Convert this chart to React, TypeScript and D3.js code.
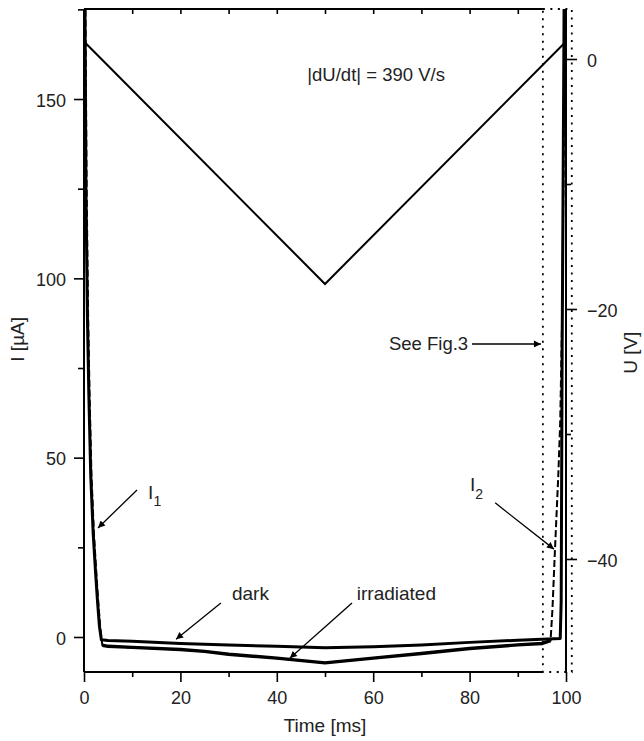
import React, { useEffect, useRef } from 'react';
import * as d3 from 'd3';

// triangular voltage sweep (right axis)
const sweepTime = [0, 50, 100];
const sweepVolt = [1.4, -18, 1.4];

// dark current trace
const darkTime = [0, 0.2, 0.4, 0.7, 1.0, 1.4, 1.9, 2.4, 2.8, 3.2, 3.6, 5, 10, 20, 30, 40, 50, 60, 70, 80, 90, 95, 98.8, 99.0, 99.2, 99.5, 99.7];
const darkCurrent = [200, 175, 125, 90, 68, 45, 29, 18, 10, 3, -0.8, -1.0, -1.2, -1.8, -2.2, -2.6, -3.0, -2.7, -2.2, -1.5, -0.9, -0.6, -0.4, 10, 80, 150, 200];

// irradiated current trace
const irrTime = [0, 0.3, 0.55, 0.85, 1.15, 1.55, 2.05, 2.55, 2.95, 3.35, 3.8, 5, 10, 20, 25, 30, 40, 50, 60, 70, 80, 90, 95, 96.8, 97.2, 97.7, 98.4, 98.8, 99.2, 99.5, 99.8];
const irrCurrent = [200, 175, 125, 90, 68, 45, 29, 18, 10, 3, -2.3, -2.6, -2.9, -3.5, -4.0, -4.8, -5.9, -7.2, -5.9, -4.6, -3.2, -2.2, -1.8, -1.0, 8, 24, 45, 60, 90, 130, 180];

const timeMajor = [0, 20, 40, 60, 80, 100];
const timeMinor = [10, 30, 50, 70, 90];
const currentMajor = [0, 50, 100, 150];
const currentMinor = [25, 75, 125, 175];
const voltMajor = [0, -20, -40];
const voltMinor = [-10, -30];

// zoom window shown in Fig.3 (ms)
const zoomWindow = [95.2, 101.2];

// annotation arrows: [t0, I0, t1, I1] in data units
const arrows = [
  [11.0, 41.0, 2.9, 30.4],
  [85.3, 37.4, 97.5, 24.5],
  [28.4, 9.5, 19.1, -0.6],
  [55.6, 9.5, 42.7, -5.9],
  [80.5, 81.7, 94.8, 81.7],
];

export default function App() {
  const ref = useRef<SVGSVGElement>(null);

  useEffect(() => {
    const width = 644;
    const height = 741;
    const margin = { top: 9, right: 78, bottom: 69, left: 84 };
    const font = "'Liberation Sans', Arial, sans-serif";

    const svg = d3.select(ref.current).attr('viewBox', [0, 0, width, height]);
    svg.selectAll('*').remove();

    const x = d3.scaleLinear([0, 100], [margin.left, width - margin.right]);
    const yI = d3.scaleLinear([-9.76, 175.1], [height - margin.bottom, margin.top]);
    const yU = d3.scaleLinear([-49.04, 4], [height - margin.bottom, margin.top]);

    const defs = svg.append('defs');
    defs.append('clipPath').attr('id', 'plot-clip')
      .append('rect')
      .attr('x', margin.left).attr('y', margin.top)
      .attr('width', width - margin.left - margin.right)
      .attr('height', height - margin.top - margin.bottom);
    defs.append('marker')
      .attr('id', 'arrowhead')
      .attr('viewBox', '0 0 10 10')
      .attr('refX', 10).attr('refY', 5)
      .attr('markerWidth', 9).attr('markerHeight', 7)
      .attr('markerUnits', 'userSpaceOnUse')
      .attr('orient', 'auto')
      .append('path').attr('d', 'M0,0L10,5L0,10z').attr('fill', '#000');

    // axes
    const styleAxis = (g, labels) => {
      g.select('.domain').remove();
      g.selectAll('line').attr('stroke', '#000').attr('stroke-width', 1.6);
      if (labels) g.selectAll('text').attr('font-family', font).attr('font-size', 18).attr('fill', '#222');
      else g.selectAll('text').remove();
    };
    const bottomY = height - margin.bottom;
    svg.append('g').attr('transform', `translate(0,${bottomY})`)
      .call(d3.axisBottom(x).tickValues(timeMajor).tickSize(10).tickPadding(9).tickFormat(d3.format('d')))
      .call((g) => styleAxis(g, true));
    svg.append('g').attr('transform', `translate(0,${bottomY})`)
      .call(d3.axisBottom(x).tickValues(timeMinor).tickSize(5))
      .call((g) => styleAxis(g, false));
    svg.append('g').attr('transform', `translate(0,${margin.top})`)
      .call(d3.axisTop(x).tickValues([...timeMinor, 20, 40, 60, 80]).tickSize(-5))
      .call((g) => styleAxis(g, false));
    svg.append('g').attr('transform', `translate(${margin.left},0)`)
      .call(d3.axisLeft(yI).tickValues(currentMajor).tickSize(10).tickPadding(8).tickFormat(d3.format('d')))
      .call((g) => styleAxis(g, true))
      .call((g) => g.selectAll('text').attr('dy', '0.4em'));
    svg.append('g').attr('transform', `translate(${margin.left},0)`)
      .call(d3.axisLeft(yI).tickValues(currentMinor).tickSize(6))
      .call((g) => styleAxis(g, false));
    const rightX = width - margin.right;
    svg.append('g').attr('transform', `translate(${rightX},0)`)
      .call(d3.axisRight(yU).tickValues(voltMajor).tickSize(11).tickPadding(10).tickFormat(d3.format('d')))
      .call((g) => styleAxis(g, true))
      .call((g) => g.selectAll('text').attr('dy', '0.4em'));
    svg.append('g').attr('transform', `translate(${rightX},0)`)
      .call(d3.axisRight(yU).tickValues(voltMinor).tickSize(5))
      .call((g) => styleAxis(g, false));

    // frame
    const frame = svg.append('g').attr('stroke', '#000').attr('stroke-width', 2);
    frame.append('line').attr('x1', x(0)).attr('x2', x(0)).attr('y1', margin.top).attr('y2', bottomY);
    frame.append('line').attr('x1', x(100)).attr('x2', x(100)).attr('y1', margin.top).attr('y2', bottomY);
    frame.append('line').attr('x1', x(0)).attr('x2', x(zoomWindow[0])).attr('y1', margin.top).attr('y2', margin.top);
    frame.append('line').attr('x1', x(0)).attr('x2', x(zoomWindow[0])).attr('y1', bottomY).attr('y2', bottomY);

    // dotted zoom window
    svg.append('rect')
      .attr('x', x(zoomWindow[0])).attr('y', margin.top)
      .attr('width', x(zoomWindow[1]) - x(zoomWindow[0]))
      .attr('height', bottomY - margin.top)
      .attr('fill', 'none').attr('stroke', '#000').attr('stroke-width', 1.8)
      .attr('stroke-dasharray', '2 5.5');

    const plot = svg.append('g').attr('clip-path', 'url(#plot-clip)');

    // voltage triangle
    const uLine = d3.line<number>().x((d, i) => x(sweepTime[i])).y((d) => yU(d));
    plot.append('path').attr('d', uLine(sweepVolt))
      .attr('fill', 'none').attr('stroke', '#000').attr('stroke-width', 2);

    const iLine = (times: number[]) => d3.line<number>().x((d, i) => x(times[i])).y((d) => yI(d));

    // irradiated: dashed edges, solid baseline
    plot.append('path').attr('d', iLine(irrTime)(irrCurrent))
      .attr('fill', 'none').attr('stroke', '#000').attr('stroke-width', 2)
      .attr('stroke-dasharray', '7 3');
    const baseIdx = irrTime.map((t, i) => i).filter((i) => irrTime[i] >= 3.8 && irrTime[i] <= 96.8);
    plot.append('path')
      .attr('d', d3.line<number>().x((i) => x(irrTime[i])).y((i) => yI(irrCurrent[i]))(baseIdx))
      .attr('fill', 'none').attr('stroke', '#000').attr('stroke-width', 3.4);

    // dark
    plot.append('path').attr('d', iLine(darkTime)(darkCurrent))
      .attr('fill', 'none').attr('stroke', '#000').attr('stroke-width', 3)
      .attr('stroke-linejoin', 'round');

    // arrows
    svg.append('g').selectAll('line').data(arrows).join('line')
      .attr('x1', (d) => x(d[0])).attr('y1', (d) => yI(d[1]))
      .attr('x2', (d) => x(d[2])).attr('y2', (d) => yI(d[3]))
      .attr('stroke', '#000').attr('stroke-width', 1.3)
      .attr('marker-end', 'url(#arrowhead)');

    // labels
    const txt = svg.append('g').attr('font-family', font).attr('font-size', 19).attr('fill', '#222');
    const i1 = txt.append('text').attr('x', x(13.3)).attr('y', yI(38.5));
    i1.append('tspan').text('I');
    i1.append('tspan').attr('dy', 7).attr('font-size', 14).text('1');
    const i2 = txt.append('text').attr('x', x(80.1)).attr('y', yI(40.7));
    i2.append('tspan').text('I');
    i2.append('tspan').attr('dy', 8).attr('font-size', 14).text('2');
    txt.append('text').attr('x', x(30.7)).attr('y', yI(10.3)).text('dark');
    txt.append('text').attr('x', x(56.6)).attr('y', yI(10.3)).text('irradiated');
    txt.append('text').attr('x', x(79.7)).attr('y', yI(80)).attr('text-anchor', 'end')
      .attr('font-size', 18.5).text('See Fig.3');
    txt.append('text').attr('x', x(60.6)).attr('y', yI(155)).attr('text-anchor', 'middle')
      .attr('font-size', 18.5).text('|dU/dt| = 390 V/s');

    txt.append('text').attr('x', x(50)).attr('y', 732).attr('text-anchor', 'middle').text('Time [ms]');
    txt.append('text').attr('transform', `translate(24,${yI(83)}) rotate(-90)`)
      .attr('text-anchor', 'middle').text('I [µA]');
    txt.append('text').attr('transform', `translate(637,${yU(-23.5)}) rotate(-90)`)
      .attr('text-anchor', 'middle').text('U [V]');
  }, []);

  return (
    <svg ref={ref} width={644} height={741}
      style={{ position: 'absolute', left: 0, top: 0, background: '#fff' }} />
  );
}
